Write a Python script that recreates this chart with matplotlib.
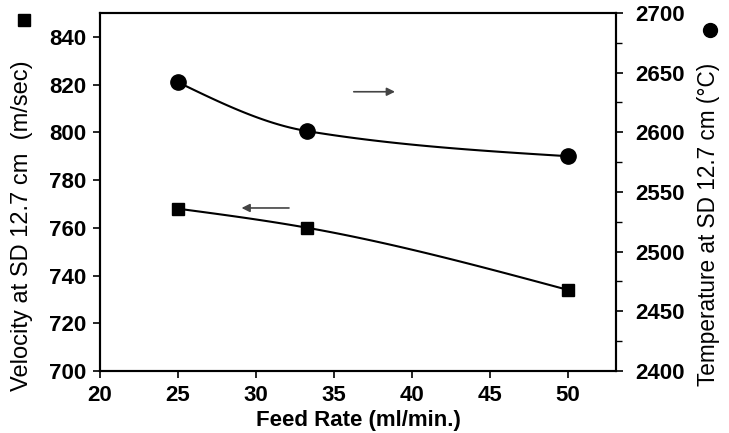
import matplotlib.pyplot as plt
import numpy as np
from matplotlib.ticker import MultipleLocator

# data
feed_rate = [25, 33.3, 50]
velocity = [768, 760, 734]
temperature = [2642, 2601, 2580]

plt.rcParams['font.family'] = ['Liberation Sans', 'DejaVu Sans']


def smooth(x, y, n=60):
    # cubic Hermite through the points (smoothed line look)
    x = np.asarray(x, float)
    y = np.asarray(y, float)
    h = np.diff(x)
    d = np.diff(y) / h
    m = np.zeros_like(x)
    for i in range(1, len(x) - 1):
        w1 = 2 * h[i] + h[i - 1]
        w2 = h[i] + 2 * h[i - 1]
        m[i] = (w1 + w2) / (w1 / d[i - 1] + w2 / d[i])
    # zero curvature at the ends
    m[0] = (3 * d[0] - m[1]) / 2
    m[-1] = (3 * d[-1] - m[-2]) / 2
    t = np.linspace(0, 1, n)
    xs, ys = [], []
    for i in range(len(h)):
        h00 = 2 * t ** 3 - 3 * t ** 2 + 1
        h10 = t ** 3 - 2 * t ** 2 + t
        h01 = -2 * t ** 3 + 3 * t ** 2
        h11 = t ** 3 - t ** 2
        xs.append(x[i] + h[i] * t)
        ys.append(h00 * y[i] + h10 * h[i] * m[i] + h01 * y[i + 1] + h11 * h[i] * m[i + 1])
    return np.concatenate(xs), np.concatenate(ys)


fig = plt.figure(figsize=(7.29, 4.33), dpi=100)
ax = fig.add_axes([0.1372, 0.1432, 0.7078, 0.8268])
ax2 = ax.twinx()

vx, vy = smooth(feed_rate, velocity)
ax.plot(vx, vy, color='black', lw=1.5)
ax.plot(feed_rate, velocity, 's', color='black', ms=8.5)

tx, ty = smooth(feed_rate, temperature)
ax2.plot(tx, ty, color='black', lw=1.5)
ax2.plot(feed_rate, temperature, 'o', color='black', ms=11)

ax.set_xlim(20, 53.1)
ax.set_ylim(700, 850)
ax2.set_ylim(2400, 2700)
ax.set_xticks(np.arange(20, 51, 5))
ax.set_yticks(np.arange(700, 841, 20))
ax2.set_yticks(np.arange(2400, 2701, 50))
ax2.yaxis.set_minor_locator(MultipleLocator(25))

for a in (ax, ax2):
    for s in a.spines.values():
        s.set_linewidth(1.5)
ax.tick_params(axis='both', which='major', labelsize=16, width=1.2, length=5, pad=5)
ax2.tick_params(axis='y', which='major', labelsize=16, width=1.2, length=5, pad=9)
ax2.tick_params(axis='y', which='minor', width=1.0, length=4)
for lab in ax.get_xticklabels() + ax.get_yticklabels() + ax2.get_yticklabels():
    lab.set_fontweight('bold')

ax.set_xlabel('Feed Rate (ml/min.)', fontsize=16, fontweight='bold', labelpad=3)
ax.set_ylabel('Velocity at SD 12.7 cm  (m/sec)', fontsize=17)
ax2.set_ylabel('Temperature at SD 12.7 cm (\u00b0C)', fontsize=16.3)
ax.yaxis.set_label_coords(-0.13, 0.405)
ax2.yaxis.set_label_coords(1.157, 0.41)

# direction arrows
ax.annotate('', xy=(39.1, 817), xytext=(36.1, 817),
            arrowprops=dict(arrowstyle='-|>', color='#444444', lw=1.2, mutation_scale=12))
ax.annotate('', xy=(28.9, 768.3), xytext=(32.3, 768.3),
            arrowprops=dict(arrowstyle='-|>', color='#444444', lw=1.2, mutation_scale=12))

# series markers beside the axes
ax.plot([-0.147], [0.98], 's', color='black', ms=8, transform=ax.transAxes, clip_on=False)
ax.plot([1.182], [0.953], 'o', color='black', ms=10, transform=ax.transAxes, clip_on=False)

fig.savefig('out.png', dpi=100)
